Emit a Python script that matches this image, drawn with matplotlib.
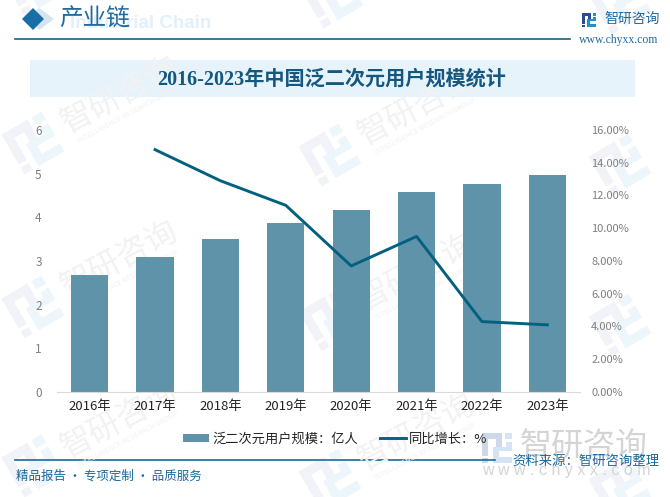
import math
import matplotlib
matplotlib.use('Agg')
import matplotlib.pyplot as plt
from matplotlib.patches import Polygon, Rectangle

plt.rcParams['font.family'] = ['Noto Sans CJK SC', 'DejaVu Sans']

years = ['2016年', '2017年', '2018年', '2019年', '2020年', '2021年', '2022年', '2023年']
users = [2.68, 3.1, 3.5, 3.87, 4.17, 4.58, 4.76, 4.97]
growth = [None, 14.8, 12.9, 11.4, 7.7, 9.5, 4.3, 4.1]
left_ticks = [0, 1, 2, 3, 4, 5, 6]
right_ticks = [0, 2, 4, 6, 8, 10, 12, 14, 16]

W, H = 670, 497
fig = plt.figure(figsize=(W / 100, H / 100), dpi=100)

# 背景层，用像素坐标
bg = fig.add_axes([0, 0, 1, 1])
bg.set_xlim(0, W)
bg.set_ylim(H, 0)
bg.axis('off')

logo_left = [
    [(-.5, -.5), (.15, -.5), (.15, .1), (-.05, .1), (-.05, -.3), (-.3, -.3), (-.3, .25), (-.5, .25)],
    [(-.5, .33), (-.3, .33), (-.3, .5), (-.5, .5)],
]
logo_right = [
    [(.25, -.5), (.5, -.5), (.5, -.3), (.25, -.3)],
    [(.3, -.2), (.5, -.2), (.5, .1), (.05, .1), (.05, .3), (.5, .3), (.5, .5), (-.15, .5), (-.15, -.05), (.3, -.05)],
]


def logo(cx, cy, s, c1, c2, angle=0):
    # 图标，水印的要转一下
    a = math.radians(angle)
    for parts, c in ((logo_left, c1), (logo_right, c2)):
        for p in parts:
            q = [(cx + s * (u * math.cos(a) + v * math.sin(a)), cy + s * (-u * math.sin(a) + v * math.cos(a))) for u, v in p]
            bg.add_patch(Polygon(q, color=c, lw=0))


# 斜着的水印
logo_marks = [(33, -15), (33, 143), (33, 307), (33, 466), (332, -3), (330, 155), (330, 320), (330, 480),
              (620, 3), (620, 165), (620, 325), (620, 488)]
text_marks = [(120, 95), (120, 259), (120, 420), (417, 107), (417, 272), (417, 432)]
for mx, my in logo_marks:
    logo(mx, my, 46, '#f1f3f8', '#edf6fb', 30)
for mx, my in text_marks:
    bg.text(mx, my, '智研咨询', fontsize=23, color='#f2f2f2', rotation=28, ha='center', va='center', rotation_mode='anchor')
    bg.text(mx + 8, my + 20, 'INTELLIGENCE RESEARCH GROUP', fontsize=5.2, color='#f2f2f2', rotation=28, ha='center', va='center', rotation_mode='anchor')

# 顶部
bg.add_patch(Polygon([(39, 8), (54, 19), (39, 30), (28, 19)], color='#d5e4ef', lw=0))
bg.add_patch(Polygon([(33, 8), (44, 19), (33, 30), (22, 19)], color='#1a6ea8', lw=0))
bg.text(70, 23, 'Industrial Chain', fontsize=13.5, fontweight='bold', color='#e3f0fa', va='center', family=['Liberation Sans'])
bg.text(59, 19, '产业链', fontsize=17, color='#1f6a9f', va='center')
bg.plot([15, 570], [39, 39], color='#1b5f8a', lw=1.2)
logo(589, 20, 14, '#2b4a92', '#1f8fd0')
bg.text(604, 19, '智研咨询', fontsize=10, color='#1f6a9f', va='center')
bg.text(579, 40, 'www.chyxx.com', fontsize=8.5, color='#1f6a9f', va='center', family=['Liberation Serif'])

# 标题条
bg.add_patch(Rectangle((30, 60), 605, 37, color='#e7f3fb', lw=0))
bg.text(332, 80, '2016-2023年中国泛二次元用户规模统计', fontsize=14.5, fontweight='bold', color='#14577f', ha='center', va='center', family=['Liberation Serif', 'Noto Sans CJK SC'])

# 底部
bg.plot([15, 495], [460, 460], color='#1b6a99', lw=1.2)
bg.text(16, 476, '精品报告 · 专项定制 · 品质服务', fontsize=9, color='#17689c', va='center')
logo(497, 448, 30, '#cfd8e8', '#d5e4f2')
bg.text(520, 446, '智研咨询', fontsize=23, color='#d4d4d4', va='center')
bg.text(482, 471, 'w w w . c h y x x . c o m', fontsize=11.5, color='#d4d4d4', va='center', family=['Liberation Sans'])
bg.text(512, 461, '资料来源：智研咨询整理', fontsize=9.6, color='#17689c', va='center')

# 主图，柱子左轴，折线右轴
ax = fig.add_axes([57 / W, 1 - 392 / H, 523 / W, 262 / H])
ax.patch.set_alpha(0)
x = list(range(len(years)))
bars = ax.bar(x, users, width=0.57, color='#5f93aa', label='泛二次元用户规模：亿人')
ax.set_xlim(-0.5, 7.5)
ax.set_ylim(0, 6)
ax.set_yticks(left_ticks)
ax.set_xticks(x)
ax.set_xticklabels(years)
ax.tick_params(axis='x', length=0, labelsize=9.5, labelcolor='#222222', pad=6)
ax.tick_params(axis='y', length=0, labelsize=8.5, labelcolor='#7f7f7f', pad=11)
for s in ['top', 'left', 'right']:
    ax.spines[s].set_visible(False)
ax.spines['bottom'].set_color('#d9d9d9')

ax2 = ax.twinx()
ax2.patch.set_alpha(0)
line, = ax2.plot(x[1:], growth[1:], color='#04607f', lw=2.1, label='同比增长：%')
ax2.set_ylim(0, 16)
ax2.set_yticks(right_ticks)
ax2.set_yticklabels(['%.2f%%' % t for t in right_ticks])
ax2.tick_params(axis='y', length=0, labelsize=8, labelcolor='#7f7f7f', pad=8)
for s in ax2.spines.values():
    s.set_visible(False)

fig.legend(handles=[bars, line], loc='center', bbox_to_anchor=(335 / W, 1 - 439 / H), ncol=2, frameon=False,
           fontsize=9.5, handlelength=2.0, handleheight=0.6, columnspacing=1.65, handletextpad=0.2, labelcolor='#222222')

fig.savefig('out.png', dpi=100)
